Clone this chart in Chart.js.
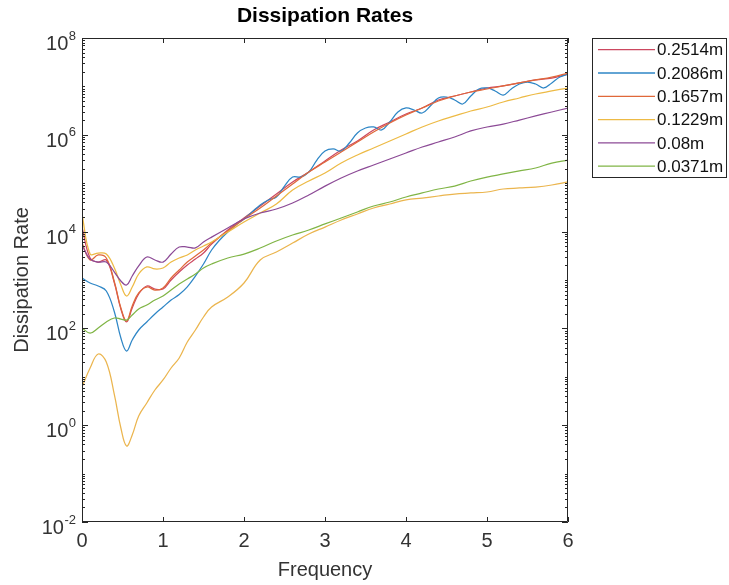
<!DOCTYPE html>
<html><head><meta charset="utf-8">
<script src="https://cdn.jsdelivr.net/npm/chart.js@4.4.1/dist/chart.umd.min.js"></script>
<style>html,body{margin:0;padding:0;background:#fff;}#wrap{width:729px;height:585px;position:relative;}</style>
</head><body><div id="wrap"><canvas id="c" width="729" height="585"></canvas></div>
<script>
// ---- data ----
const seriesLabels = ['0.2514m','0.2086m','0.1657m','0.1229m','0.08m','0.0371m'];
const freqCommon = [0,0.1,0.2,0.3,0.4,0.48,0.55,0.62,0.7,0.8,0.9,1.0,1.1,1.2,1.3,1.4,1.5,1.6,1.8,2.0,2.2,2.4,2.6,2.8,3.0,3.2,3.4,3.6,3.8,4.0,4.2,4.4,4.6,4.8,5.0,5.2,5.4,5.6,5.8,6.0];
const freqBlue = [0,0.1,0.2,0.3,0.4,0.48,0.55,0.62,0.7,0.8,0.9,1.0,1.1,1.2,1.3,1.4,1.5,1.6,1.7,1.8,1.9,2.0,2.1,2.2,2.3,2.4,2.5,2.6,2.7,2.8,2.9,3.0,3.1,3.2,3.3,3.4,3.5,3.6,3.7,3.8,3.9,4.0,4.1,4.2,4.3,4.4,4.5,4.6,4.7,4.8,4.9,5.0,5.1,5.2,5.3,5.4,5.5,5.6,5.7,5.8,5.9,6.0];
const rate02514 = [1.24e4,2.85e3,2.35e3,2.59e3,867,252,136,264,514,752,652,652,1000,1.46e3,2.04e3,2.7e3,3.61e3,5.5e3,1.08e4,1.91e4,3.38e4,5.98e4,1.06e5,1.70e5,2.88e5,4.85e5,7.45e5,1.26e6,1.84e6,2.69e6,3.58e6,5.24e6,6.33e6,7.66e6,9.27e6,1.02e7,1.18e7,1.36e7,1.49e7,1.80e7];
const rate02086 = [1.1e3,867,752,593,218,63.4,34.1,57.6,92.7,136,199,277,386,500,720,1.2e3,2.14e3,4.17e3,6.7e3,9.8e3,1.37e4,1.82e4,2.54e4,3.55e4,4.5e4,5.19e4,8.7e4,1.34e5,1.34e5,1.7e5,3.01e5,4.62e5,5.09e5,4.62e5,6.77e5,1.09e6,1.38e6,1.45e6,1.26e6,1.84e6,2.96e6,3.58e6,3.25e6,2.82e6,3.94e6,5.76e6,6.04e6,5.24e6,4.33e6,6.33e6,8.84e6,9.27e6,8.04e6,6.64e6,8.84e6,1.12e7,1.23e7,1.12e7,9.27e6,1.18e7,1.56e7,1.80e7];
const rate01657 = [5.8e3,2.59e3,3.29e3,2.85e3,910,264,142,290,539,716,621,684,1.1e3,1.61e3,2.35e3,3.13e3,4.17e3,5.8e3,1.03e4,1.82e4,3.07e4,5.44e4,9.6e4,1.7e5,2.74e5,4.41e5,7.1e5,1.14e6,1.75e6,2.56e6,3.58e6,4.99e6,6.33e6,7.66e6,8.84e6,1.02e7,1.18e7,1.36e7,1.56e7,1.89e7];
const rate01229 = [2.31e4,3.44e3,3.61e3,3.44e3,1.77e3,788,467,716,1.33e3,1.86e3,1.69e3,1.77e3,2.35e3,2.85e3,3.29e3,4.17e3,5.04e3,6.1e3,9.8e3,1.58e4,2.42e4,3.72e4,7.24e4,1.11e5,1.62e5,2.61e5,3.83e5,5.33e5,7.45e5,1.04e6,1.45e6,1.93e6,2.45e6,3.1e6,3.75e6,4.76e6,5.76e6,6.97e6,8.04e6,9.27e6];
const rate0080 = [5.3e3,2.7e3,2.35e3,2.35e3,1.46e3,953,788,1.21e3,1.95e3,2.99e3,2.59e3,2.35e3,3.44e3,4.8e3,4.8e3,4.6e3,6.1e3,7.7e3,1.19e4,1.82e4,2.42e4,2.93e4,3.9e4,5.7e4,8.7e4,1.28e5,1.79e5,2.38e5,3.16e5,4.2e5,5.6e5,7.1e5,9.0e5,1.2e6,1.45e6,1.67e6,2.02e6,2.45e6,2.96e6,3.58e6];
const rate00371 = [102,80,102,136,164,156,149,189,252,304,386,467,621,826,1.05e3,1.33e3,1.77e3,2.14e3,2.85e3,3.44e3,4.58e3,6.4e3,8.5e3,1.08e4,1.44e4,1.91e4,2.54e4,3.38e4,4.09e4,5.19e4,6.28e4,7.59e4,8.7e4,1.11e5,1.34e5,1.55e5,1.79e5,2.06e5,2.61e5,3.01e5];
const rateExtra = [6.15,15.2,29.6,20.2,4.21,0.875,0.372,0.628,1.55,2.88,5.34,8.59,15.2,24.5,52.4,92.7,172,277,445,867,2.59e3,3.79e3,5.8e3,8.9e3,1.24e4,1.74e4,2.31e4,3.07e4,3.72e4,4.5e4,4.94e4,5.44e4,5.98e4,6.28e4,6.58e4,7.59e4,7.96e4,8.34e4,9.18e4,1.06e5];
const xTickValues = [0,1,2,3,4,5,6];
const yTickExponents = [-2,0,2,4,6,8];

// ---- styling ----
const FONT = "'Liberation Sans', Arial, Helvetica, sans-serif";
const colors = ['#CC4860','#2E86C6','#E0683A','#EDBA45','#8C4A96','#80B546'];
const extraColor = '#EBB54E';
const axisColor = '#262626';
Chart.defaults.font.family = FONT;

function pts(fx, vals){ return fx.map((f,i)=>({x:f,y:vals[i]})); }
const seriesData = [
  pts(freqCommon, rate02514), pts(freqBlue, rate02086), pts(freqCommon, rate01657),
  pts(freqCommon, rate01229), pts(freqCommon, rate0080), pts(freqCommon, rate00371)
];
const datasets = seriesData.map((d,i)=>({label:seriesLabels[i], data:d, borderColor:colors[i], borderWidth:1.25, pointRadius:0, fill:false, tension:0.4}));
datasets.push({label:'', data:pts(freqCommon, rateExtra), borderColor:extraColor, borderWidth:1.25, pointRadius:0, fill:false, tension:0.4});
datasets.reverse(); // draw first series on top

const decor = {
  id:'decor',
  afterDraw(chart){
    const {ctx, chartArea:a, scales:{x,y}} = chart;
    ctx.save();
    ctx.strokeStyle = axisColor; ctx.lineWidth = 1;
    ctx.beginPath();
    ctx.rect(a.left+0.5, a.top+0.5, a.right-a.left-1, a.bottom-a.top-1);
    ctx.stroke();
    ctx.beginPath();
    xTickValues.forEach(v=>{
      const px = Math.round(x.getPixelForValue(v))+0.5;
      ctx.moveTo(px,a.bottom); ctx.lineTo(px,a.bottom-5);
      ctx.moveTo(px,a.top); ctx.lineTo(px,a.top+5);
    });
    for(let d=-2; d<=8; d++){
      const py = Math.round(y.getPixelForValue(Math.pow(10,d)))+0.5;
      const len = (d%2===0)?6:3;
      ctx.moveTo(a.left,py); ctx.lineTo(a.left+len,py);
      ctx.moveTo(a.right,py); ctx.lineTo(a.right-len,py);
      if(d<8){
        for(let k=2;k<=9;k++){
          const pm = Math.round(y.getPixelForValue(k*Math.pow(10,d)))+0.5;
          ctx.moveTo(a.left,pm); ctx.lineTo(a.left+3,pm);
          ctx.moveTo(a.right,pm); ctx.lineTo(a.right-3,pm);
        }
      }
    }
    ctx.stroke();
    // y tick labels with superscripts
    ctx.fillStyle = '#333';
    yTickExponents.forEach(e=>{
      const py = y.getPixelForValue(Math.pow(10,e));
      const ex = String(e);
      ctx.font = '13px '+FONT;
      ctx.textAlign = 'right'; ctx.textBaseline = 'alphabetic';
      const ew = ctx.measureText(ex).width;
      ctx.fillText(ex, 76, py+1.5);
      ctx.font = '20px '+FONT;
      ctx.fillText('10', 76-ew-0.5, py+12);
    });
    // legend
    const lx=592, ly=38, lw=135, lh=140;
    ctx.fillStyle='#fff'; ctx.fillRect(lx,ly,lw,lh);
    ctx.strokeStyle=axisColor; ctx.lineWidth=1;
    ctx.strokeRect(lx+0.5,ly+0.5,lw-1,lh-1);
    const items = chart.data.datasets.filter(ds=>ds.label).reverse();
    items.forEach((ds,i)=>{
      const yy = ly + 11.7 + i*23.3;
      ctx.strokeStyle=ds.borderColor; ctx.lineWidth=1.3;
      ctx.beginPath(); ctx.moveTo(598,yy); ctx.lineTo(655,yy); ctx.stroke();
      ctx.fillStyle='#111'; ctx.font='17px '+FONT; ctx.textAlign='left'; ctx.textBaseline='middle';
      ctx.fillText(ds.label, 657, yy+1);
    });
    ctx.restore();
  }
};

new Chart(document.getElementById('c'), {
  type:'line',
  data:{datasets},
  options:{
    responsive:false, animation:false, devicePixelRatio:1,
    layout:{padding:{left:0,right:161,top:0,bottom:0}},
    plugins:{
      legend:{display:false}, tooltip:{enabled:false},
      title:{display:true, text:'Dissipation Rates', fullSize:false, color:'#000', font:{size:21, weight:'bold'}, padding:{top:4, bottom:8.8}}
    },
    scales:{
      x:{type:'linear', min:0, max:6, grid:{display:false, drawTicks:false}, border:{display:false},
         ticks:{stepSize:1, color:'#333', font:{size:20}, padding:7, maxRotation:0},
         title:{display:true, text:'Frequency', color:'#333', font:{size:20}, padding:{top:0,bottom:3}},
         afterFit(s){ s.height = 63; }},
      y:{type:'logarithmic', min:1e-2, max:1e8, grid:{display:false, drawTicks:false}, border:{display:false},
         ticks:{display:false},
         title:{display:true, text:'Dissipation Rate', color:'#333', font:{size:20}, padding:{top:10,bottom:0}},
         afterFit(s){ s.width = 82; }}
    }
  },
  plugins:[decor]
});
</script></body></html>
